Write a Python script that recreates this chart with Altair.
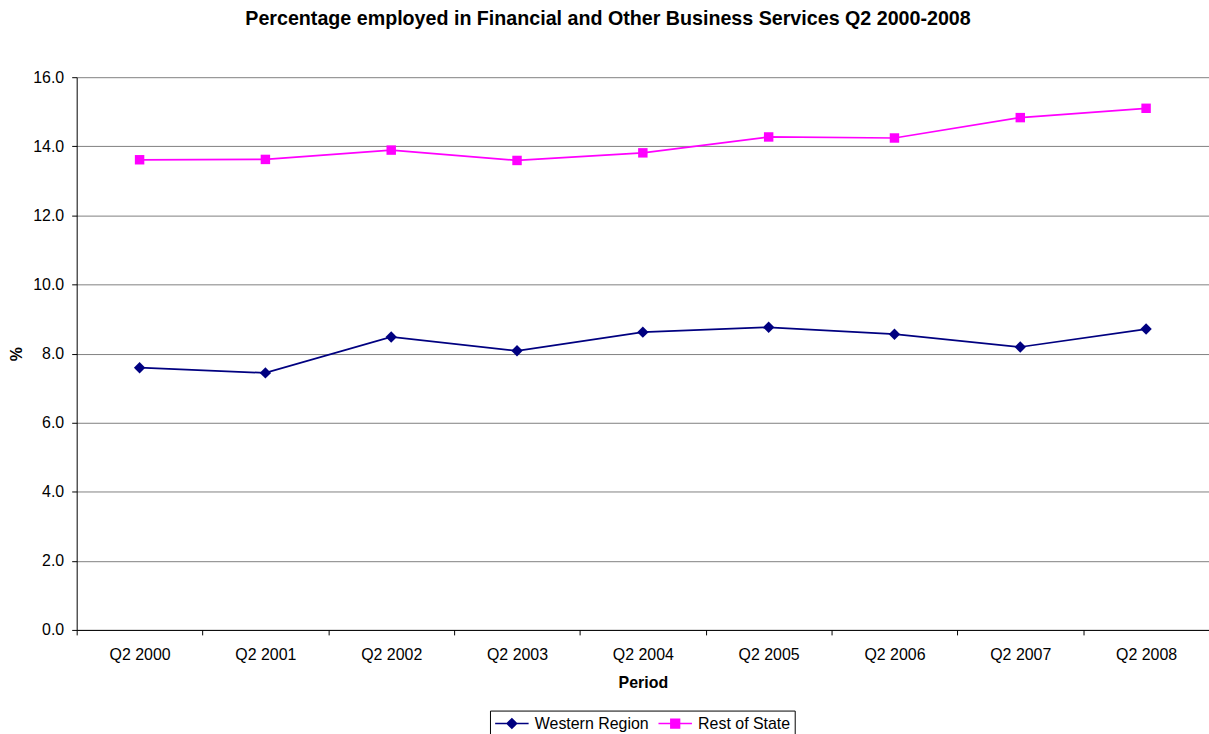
import altair as alt
import pandas as pd

periods = ["Q2 2000", "Q2 2001", "Q2 2002", "Q2 2003", "Q2 2004",
           "Q2 2005", "Q2 2006", "Q2 2007", "Q2 2008"]
western = [7.59, 7.44, 8.48, 8.08, 8.62, 8.76, 8.56, 8.19, 8.71]
rest = [13.61, 13.62, 13.89, 13.59, 13.81, 14.27, 14.24, 14.83, 15.10]
series = ["Western Region", "Rest of State"]
colors = ["#000080", "#FF00FF"]
legend_shapes = ["M-2.1,0L2.1,0M0,-0.6L0.6,0L0,0.6L-0.6,0Z",
                 "M-2.1,0L2.1,0M-0.55,-0.55L0.55,-0.55L0.55,0.55L-0.55,0.55Z"]

rows = []
for name, vals in zip(series, [western, rest]):
    for p, v in zip(periods, vals):
        rows.append({"Period": p, "Series": name, "Value": v})
df = pd.DataFrame(rows)
legend_df = pd.DataFrame({"Series": series})

FONT = "Liberation Sans"

x = alt.X("Period:N", sort=periods,
          scale=alt.Scale(type="band", paddingInner=0, paddingOuter=0),
          axis=alt.Axis(title="Period", labelAngle=0, tickBand="extent",
                        ticks=True, tickSize=5, tickColor="black",
                        domainColor="black", labelFontSize=16,
                        labelColor="black", titleFontSize=16,
                        titleFontWeight="bold", titleColor="black",
                        labelPadding=12, titlePadding=12, grid=False,
                        labelFont=FONT, titleFont=FONT))
y = alt.Y("Value:Q", scale=alt.Scale(domain=[0, 16], nice=False, zero=True),
          axis=alt.Axis(title="%", values=[0, 2, 4, 6, 8, 10, 12, 14, 16],
                        format=".1f", grid=True, gridColor="#808080",
                        gridWidth=1, tickSize=5, tickColor="black",
                        domainColor="black", labelFontSize=16,
                        labelColor="black", titleFontSize=16,
                        titleFontWeight="bold", titleColor="black",
                        labelPadding=8, titlePadding=8,
                        labelFont=FONT, titleFont=FONT))

color_scale = alt.Scale(domain=series, range=colors)
legend_shape_scale = alt.Scale(domain=series, range=legend_shapes)

legend = alt.Legend(
    title=None, orient="none", legendX=415, legendY=636,
    direction="horizontal", strokeColor="black", padding=4,
    fillColor="white", labelFontSize=16, labelFont=FONT,
    labelColor="black", symbolSize=256, symbolStrokeWidth=1.5,
    symbolOffset=9, labelOffset=14, columnPadding=6, symbolOpacity=1)

is_west = alt.datum.Series == "Western Region"

legend_layer = alt.Chart(legend_df).mark_point(
    filled=True, opacity=1, strokeWidth=1.5, clip=True).encode(
    x=alt.value(-500), y=alt.value(-500),
    fill=alt.Fill("Series:N", scale=color_scale, legend=legend),
    stroke=alt.Stroke("Series:N", scale=color_scale, legend=legend),
    shape=alt.Shape("Series:N", scale=legend_shape_scale, legend=legend),
)
lines = alt.Chart(df).mark_line(strokeWidth=1.75).encode(
    x=x, y=y,
    color=alt.Color("Series:N", scale=color_scale, legend=None),
    detail="Series:N",
)
points = alt.Chart(df).mark_point(filled=True, opacity=1).encode(
    x=x, y=y,
    color=alt.Color("Series:N", scale=color_scale, legend=None),
    shape=alt.condition(is_west, alt.value("diamond"), alt.value("square")),
    size=alt.condition(is_west, alt.value(130), alt.value(90)),
)

chart = alt.layer(legend_layer, lines, points).properties(
    width=1137, height=555,
    autosize=alt.AutoSizeParams(type="none"),
    padding={"left": 77, "top": 76, "right": 0, "bottom": 103},
    background="white",
    title=alt.TitleParams(
        "Percentage employed in Financial and Other Business Services Q2 2000-2008",
        fontSize=19.75, fontWeight="bold", font=FONT, color="black",
        anchor="middle", dx=-35, offset=41),
).configure_view(stroke=None)

chart.save("out.html", embed_options={"renderer": "svg", "actions": False})
